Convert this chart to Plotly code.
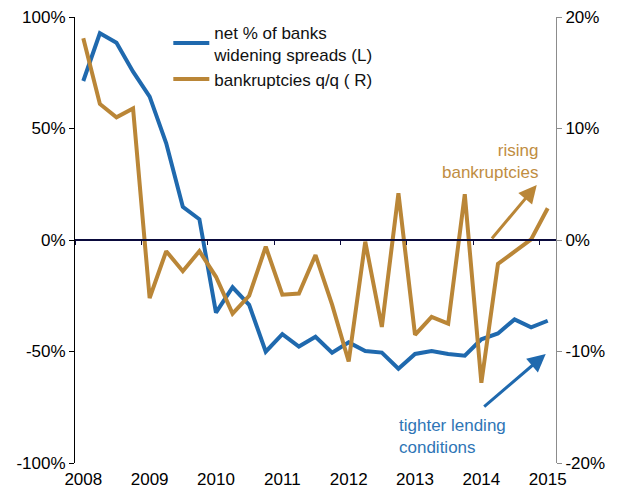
import plotly.graph_objects as go

# Quarterly observations 2008Q1 .. 2015Q1
quarters = [f"{y}Q{q}" for y in range(2008, 2016) for q in range(1, 5)][:29]
spreads_net_pct = [71.3, 92.7, 88.5, 75.5, 64.3, 43.4, 14.9, 9.3, -32.6, -21.2,
                   -29.1, -50.1, -42.2, -47.8, -43.4, -50.5, -45.9, -49.8, -50.5, -57.7,
                   -51.1, -49.8, -51.1, -51.9, -44.5, -41.9, -35.6, -39.2, -36.2]
bankruptcies_qq = [18.1, 12.2, 11.0, 11.8, -5.2, -1.0, -2.8, -1.0, -3.3, -6.6,
                   -5.0, -0.6, -4.9, -4.8, -1.35, -5.8, -10.9, -0.15, -7.8, 4.2,
                   -8.5, -6.9, -7.5, 4.1, -12.8, -2.15, -1.05, 0.05, 2.85]
year_labels = ["2008", "2009", "2010", "2011", "2012", "2013", "2014", "2015"]
left_ticks = [-100, -50, 0, 50, 100]
right_ticks = [-20, -10, 0, 10, 20]

BLUE = "#1F69AE"
GOLD = "#BA8637"
BLUE_TXT = "#2E75B6"
GOLD_TXT = "#BF8D42"
FONT = "Liberation Sans, Arial, sans-serif"
FS = 17

idx = list(range(len(quarters)))
year_pos = [quarters.index(f"{y}Q1") for y in year_labels]
boundary_ticks = [p - 0.5 for p in year_pos]

fig = go.Figure()
fig.add_trace(go.Scatter(x=idx, y=spreads_net_pct, mode="lines",
                         name="net % of banks<br>widening spreads (L)",
                         line=dict(color=BLUE, width=4), yaxis="y"))
fig.add_trace(go.Scatter(x=idx, y=bankruptcies_qq, mode="lines",
                         name="bankruptcies q/q ( R)",
                         line=dict(color=GOLD, width=4), yaxis="y2"))
# carrier for the zero-line axis with year ticks
fig.add_trace(go.Scatter(x=[], y=[], xaxis="x2", yaxis="y", showlegend=False,
                         hoverinfo="skip"))

xr = [-0.5, len(quarters) - 0.5]

fig.update_layout(
    width=626, height=490,
    margin=dict(l=67, r=78, t=9, b=35, autoexpand=False),
    paper_bgcolor="white", plot_bgcolor="white",
    font=dict(family=FONT, size=FS, color="#000000"),
    showlegend=True,
    legend=dict(x=0.194, y=1.006, xanchor="left", yanchor="top",
                bgcolor="rgba(0,0,0,0)", font=dict(size=FS, color="#111111"),
                tracegroupgap=2, itemwidth=36),
    xaxis=dict(range=xr, tickmode="array", tickvals=year_pos, ticktext=year_labels,
               showgrid=False, zeroline=False, showline=False, ticks="",
               ticklabelstandoff=4, tickfont=dict(size=FS), automargin=False,
               ticklabeloverflow="allow"),
    xaxis2=dict(range=xr, overlaying="x", anchor="free", position=0.5,
                showgrid=False, zeroline=False, showline=True, linecolor="#0A0A3C",
                linewidth=2, tickmode="array", tickvals=boundary_ticks, ticks="outside",
                ticklen=4, tickwidth=1, tickcolor="#0A0A3C", showticklabels=False,
                automargin=False),
    yaxis=dict(range=[-100, 100], tickmode="array", tickvals=left_ticks,
               ticktext=[f"{v}%" for v in left_ticks], showgrid=False, zeroline=False,
               showline=True, linecolor="#000000", linewidth=1, ticks="outside",
               ticklen=5, tickcolor="#000000", tickfont=dict(size=FS), automargin=False,
               ticklabeloverflow="allow"),
    yaxis2=dict(range=[-20, 20], overlaying="y", side="right", tickmode="array",
                tickvals=right_ticks, ticktext=[f"{v}%" for v in right_ticks],
                showgrid=False, zeroline=False, showline=True, linecolor="#8C8C8C",
                linewidth=1, ticks="outside", ticklen=5, tickcolor="#8C8C8C",
                tickfont=dict(size=FS), automargin=False, ticklabeloverflow="allow"),
)

# arrows
fig.add_annotation(x=27.34, y=4.93, xref="x", yref="y2", ax=24.56, ay=0,
                   axref="x", ayref="y2", showarrow=True, arrowhead=2,
                   arrowsize=1.2, arrowwidth=3, arrowcolor=GOLD, text="")
fig.add_annotation(x=27.88, y=-51.1, xref="x", yref="y", ax=24.08, ay=-75.3,
                   axref="x", ayref="y", showarrow=True, arrowhead=2,
                   arrowsize=1.2, arrowwidth=3, arrowcolor=BLUE, text="")
# labels
fig.add_annotation(x=27.52, y=7.0, xref="x", yref="y2", xanchor="right",
                   yanchor="middle", align="right", showarrow=False,
                   text="rising<br>bankruptcies", font=dict(size=FS, color=GOLD_TXT))
fig.add_annotation(x=18.9, y=-87.9, xref="x", yref="y", xanchor="left",
                   yanchor="middle", align="left", showarrow=False,
                   text="tighter lending<br>conditions", font=dict(size=FS, color=BLUE_TXT))

fig.write_html("out.html")
